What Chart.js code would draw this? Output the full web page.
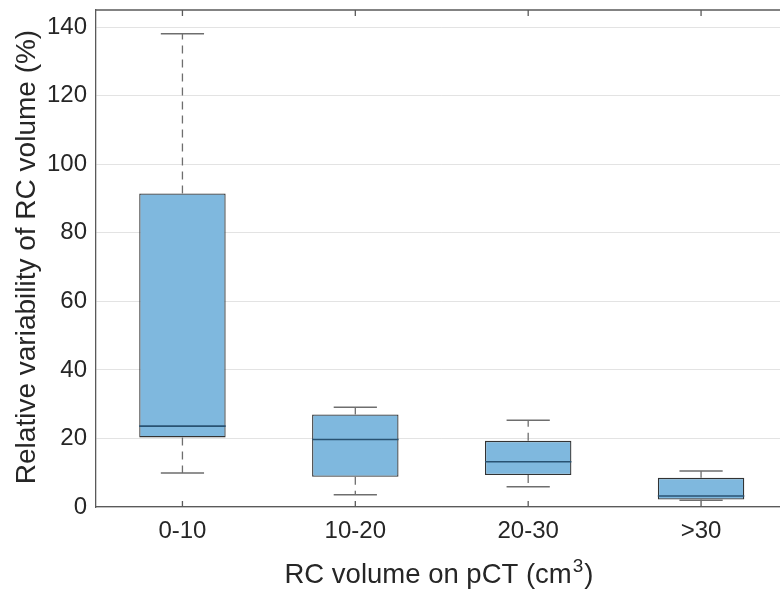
<!DOCTYPE html>
<html><head><meta charset="utf-8">
<script src="https://cdn.jsdelivr.net/npm/chart.js@4"></script>
<style>html,body{margin:0;padding:0;background:#fff;overflow:hidden;width:780px;height:597px}#wrap{width:800px;height:597px;position:relative}</style>
</head><body><div id="wrap"><canvas id="c" width="800" height="597"></canvas></div>
<script>
const categories = ['0-10', '10-20', '20-30', '>30'];
const whiskerLow = [9.9, 3.6, 5.9, 2.0];
const q1 = [20.3, 8.8, 9.3, 2.2];
const median = [23.6, 19.7, 13.2, 3.2];
const q3 = [91.5, 27.0, 19.3, 8.5];
const whiskerHigh = [138.1, 29.1, 25.3, 10.5];
const yTicks = [0, 20, 40, 60, 80, 100, 120, 140];
const yTitle = 'Relative variability of RC volume (%)';
const xTitleMain = 'RC volume on pCT (cm';
const xTitleSup = '3';
const xTitleEnd = ')';

const FONT = "'Liberation Sans', Arial, Helvetica, sans-serif";
const TXT = '#262626';

const boxPlugin = {
  id: 'boxExtras',
  afterDatasetsDraw(chart) {
    const ctx = chart.ctx, xs = chart.scales.x, ys = chart.scales.y;
    const meta = chart.getDatasetMeta(0);
    ctx.save();
    categories.forEach((c, i) => {
      const bar = meta.data[i];
      const x = xs.getPixelForValue(i);
      const hw = bar.width / 2;
      const capHw = bar.width / 4;
      ctx.strokeStyle = '#6e6e6e';
      ctx.lineWidth = 1.3;
      ctx.setLineDash([8, 6]);
      ctx.beginPath();
      ctx.moveTo(x, ys.getPixelForValue(q3[i]));
      ctx.lineTo(x, ys.getPixelForValue(whiskerHigh[i]));
      ctx.moveTo(x, ys.getPixelForValue(q1[i]));
      ctx.lineTo(x, ys.getPixelForValue(whiskerLow[i]));
      ctx.stroke();
      ctx.setLineDash([]);
      ctx.lineWidth = 1.5;
      ctx.beginPath();
      const yh = ys.getPixelForValue(whiskerHigh[i]), yl = ys.getPixelForValue(whiskerLow[i]);
      ctx.moveTo(x - capHw, yh); ctx.lineTo(x + capHw, yh);
      ctx.moveTo(x - capHw, yl); ctx.lineTo(x + capHw, yl);
      ctx.stroke();
      ctx.strokeStyle = '#285272';
      ctx.lineWidth = 1.6;
      ctx.beginPath();
      const ym = ys.getPixelForValue(median[i]);
      ctx.moveTo(x - hw, ym); ctx.lineTo(x + hw, ym);
      ctx.stroke();
    });
    ctx.restore();
  },
  afterDraw(chart) {
    const ctx = chart.ctx, ca = chart.chartArea, xs = chart.scales.x;
    ctx.save();
    ctx.strokeStyle = '#5a5a5a';
    ctx.lineWidth = 1.3;
    ctx.beginPath();
    ctx.moveTo(ca.left, ca.top); ctx.lineTo(ca.right, ca.top);
    ctx.stroke();
    ctx.beginPath();
    categories.forEach((c, i) => {
      const x = xs.getPixelForValue(i);
      ctx.moveTo(x, ca.top); ctx.lineTo(x, ca.top + 6);
      ctx.moveTo(x, ca.bottom); ctx.lineTo(x, ca.bottom - 6);
    });
    ctx.stroke();
    ctx.fillStyle = TXT;
    ctx.font = '28px ' + FONT;
    ctx.textBaseline = 'alphabetic';
    ctx.save();
    ctx.translate(35, 257);
    ctx.rotate(-Math.PI / 2);
    ctx.textAlign = 'center';
    ctx.fillText(yTitle, 0, 0);
    ctx.restore();
    ctx.font = '27.5px ' + FONT;
    const mainW = ctx.measureText(xTitleMain).width;
    const endW = ctx.measureText(xTitleEnd).width;
    ctx.font = '19px ' + FONT;
    const supW = ctx.measureText(xTitleSup).width;
    const total = mainW + supW + endW + 2;
    const cx = 439;
    let x0 = cx - total / 2;
    const base = 583;
    ctx.textAlign = 'left';
    ctx.font = '27.5px ' + FONT;
    ctx.fillText(xTitleMain, x0, base);
    ctx.font = '19px ' + FONT;
    ctx.fillText(xTitleSup, x0 + mainW + 1, base - 11);
    ctx.font = '27.5px ' + FONT;
    ctx.fillText(xTitleEnd, x0 + mainW + supW + 2, base);
    ctx.restore();
  }
};

new Chart(document.getElementById('c'), {
  type: 'bar',
  data: {
    labels: categories,
    datasets: [{
      data: categories.map((c, i) => [q1[i], q3[i]]),
      backgroundColor: 'rgb(127,184,222)',
      borderColor: '#333333',
      borderWidth: 1.3,
      borderSkipped: false,
      categoryPercentage: 1,
      barPercentage: 0.5
    }]
  },
  options: {
    responsive: false,
    animation: false,
    devicePixelRatio: 1,
    layout: { padding: { left: 0, top: 10, right: 12.5, bottom: 0 } },
    plugins: { legend: { display: false }, tooltip: { enabled: false } },
    scales: {
      x: {
        afterFit(s) { s.height = 90; s.paddingLeft = 0; s.paddingRight = 0; },
        grid: { display: false, drawTicks: false },
        border: { display: true, color: '#5a5a5a', width: 1.3 },
        ticks: { color: TXT, font: { family: FONT, size: 24 }, padding: 10, maxRotation: 0 }
      },
      y: {
        min: 0, max: 145,
        afterFit(s) { s.width = 96; s.paddingTop = 0; s.paddingBottom = 0; },
        afterBuildTicks(s) { s.ticks = yTicks.map(v => ({ value: v })); },
        grid: { color: '#e3e3e3', lineWidth: 1, drawTicks: false },
        border: { display: true, color: '#5a5a5a', width: 1.3 },
        ticks: { color: TXT, font: { family: FONT, size: 24 }, padding: 9 }
      }
    }
  },
  plugins: [boxPlugin]
});
</script>
</body></html>
